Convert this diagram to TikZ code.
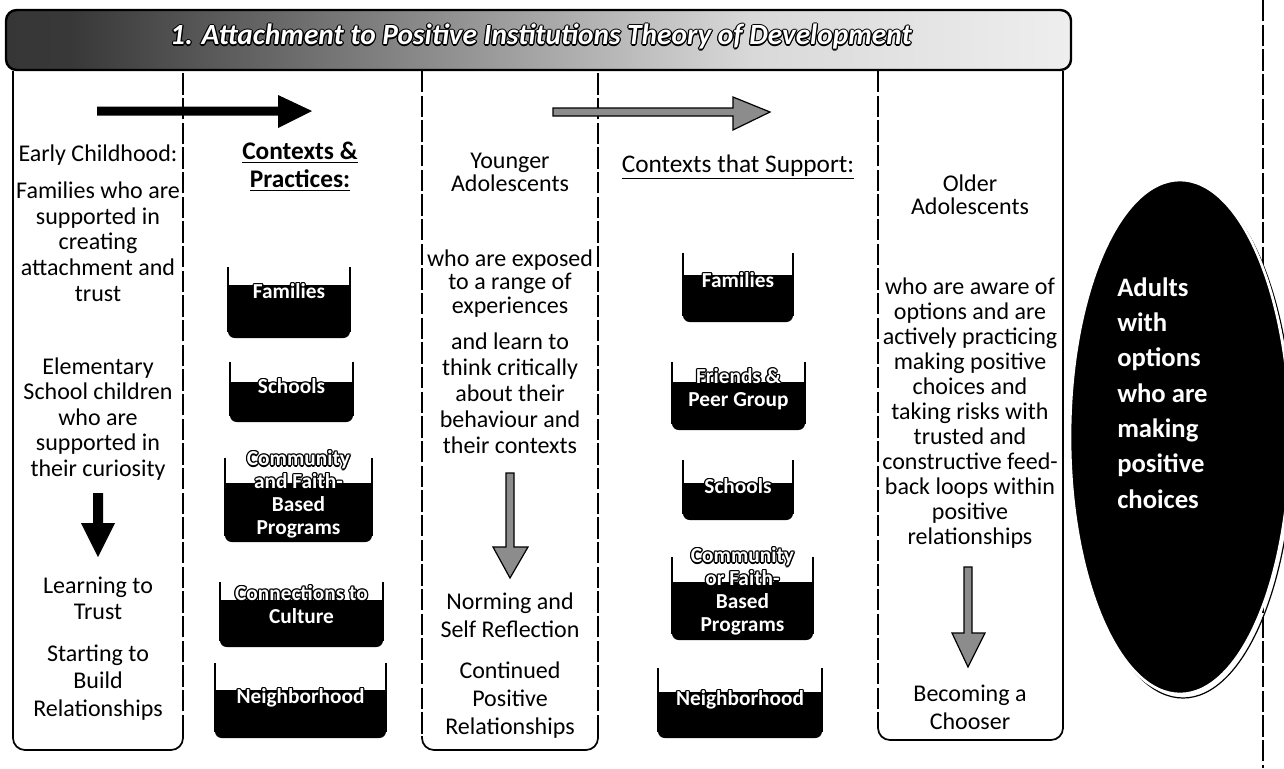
\documentclass[tikz,border=0pt]{standalone}
\usepackage{fontspec}
\setmainfont{Carlito}
\newcommand\bodyfont[1]{\fontsize{18pt}{#1}\selectfont\lineskiplimit=-20pt\relax}
\newcommand\lblfont{\fontsize{16pt}{17.25pt}\selectfont\bfseries\lineskiplimit=-20pt\relax}
\newcommand\hdrfont{\fontsize{19pt}{21pt}\selectfont\lineskiplimit=-20pt\relax}
\newcommand\ttlfont{\fontsize{22pt}{26pt}\selectfont\bfseries\itshape}
\newcommand\ellfont{\fontsize{20pt}{26.5pt}\selectfont\bfseries\lineskiplimit=-20pt\relax}
\pgfdeclarehorizontalshading{bannershade}{100bp}{color(0bp)=(black!85); color(28bp)=(black!78); color(45bp)=(black!45); color(60bp)=(black!15); color(78bp)=(black!5); color(100bp)=(white)}
% outlined text: #1 name, #2 x, #3 y, #4 style, #5 text
\newcommand\olabel[5]{%
  \foreach \dx/\dy [count=\k] in {1.3/0,-1.3/0,0/1.3,0/-1.3,0.9/0.9,-0.9/0.9,0.9/-0.9,-0.9/-0.9}{%
    \node[#4, text=black] (#1-\k) at ({#2+\dx},{#3+\dy}) {#5};
  }%
  \node[#4, text=white] (#1) at (#2,#3) {#5};
}
% beaker: x1, x2, top, water, bottom
\newcommand\beaker[5]{%
  \fill[rounded corners=5pt] (#1,#4) rectangle (#2,#5);
  \fill (#1,#4) rectangle (#2,{#4+10});
  \draw[beakerside] (#1,#3) -- (#1,{#5-6});
  \draw[beakerside] (#2,#3) -- (#2,{#5-6});
}
\begin{document}
\begin{tikzpicture}[x=0.75pt,y=-0.75pt,
  solidline/.style={line width=1.3pt},
  dashline/.style={line width=1.1pt, dash pattern=on 16pt off 2.5pt},
  beakerside/.style={line width=0.8pt},
  bodytext/.style={align=center, inner sep=0pt, anchor=north},
  lbltext/.style={align=center, inner sep=0pt, anchor=north, font=\lblfont},
  titletext/.style={inner sep=0pt, anchor=center, font=\ttlfont},
  hdrtext/.style={align=center, inner sep=0pt, anchor=north, font=\hdrfont},
  elltext/.style={align=left, inner sep=0pt, anchor=north west, font=\ellfont, text=white},
  grayarrow/.style={fill=black!45, draw=black, line width=0.9pt, line join=miter},
]
\useasboundingbox (0,0) rectangle (1284,768);
\fill[white] (0,0) rectangle (1284,768);
% right dashed line
\draw[dashline, line width=1pt] (1263,0) -- (1263,768);
% banner
\shade[shading=bannershade, rounded corners=8pt] (6,10) rectangle (1071,70);
\draw[line width=1.8pt, rounded corners=8pt] (6,10) rectangle (1071,70);
\olabel{title}{541}{37}{titletext}{1. Attachment to Positive Institutions Theory of Development}
% column boxes
\draw[solidline, rounded corners=9pt] (13,71) -- (13,750) -- (183,750) -- (183,736);
\draw[dashline] (183,736) -- (183,71);
\draw[dashline] (422,71) -- (422,736);
\draw[solidline, rounded corners=9pt] (422,736) -- (422,750) -- (598,750) -- (598,736);
\draw[dashline] (598,736) -- (598,71);
\draw[dashline] (878,71) -- (878,726);
\draw[solidline, rounded corners=9pt] (878,726) -- (878,740) -- (1063,740) -- (1063,71);
% horizontal arrows
\fill (97,106.5) -- (278,106.5) -- (278,95) -- (312,111) -- (278,128) -- (278,115.5) -- (97,115.5) -- cycle;
\filldraw[grayarrow] (553,108) -- (733,108) -- (733,97) -- (770,112) -- (733,130) -- (733,116) -- (553,116) -- cycle;
% vertical arrows
\fill (93,493) -- (103,493) -- (103,523) -- (115,523) -- (98,557) -- (81,523) -- (93,523) -- cycle;
\filldraw[grayarrow] (506,473) -- (514,473) -- (514,547) -- (528,547) -- (510,578) -- (493,547) -- (506,547) -- cycle;
\filldraw[grayarrow] (964,567) -- (972,567) -- (972,633) -- (985,633) -- (968,667) -- (952,633) -- (964,633) -- cycle;
% beakers column 2
\beaker{228}{350}{267}{285}{338}
\beaker{230}{353}{362}{382}{422}
\beaker{225}{372}{458}{483}{542}
\beaker{220}{383}{582}{600}{647}
\beaker{215}{386}{663}{690}{738}
% beakers column 4
\beaker{683}{793}{253}{275}{322}
\beaker{672}{805}{362}{382}{430}
\beaker{683}{793}{460}{483}{520}
\beaker{672}{813}{557}{582}{640}
\beaker{658}{822}{668}{692}{738}
% beaker labels
\olabel{lf1}{289}{282.4}{lbltext}{\strut Families}
\olabel{ls1}{291.5}{377.4}{lbltext}{\strut Schools}
\olabel{lc1}{298.5}{449.4}{lbltext}{\strut Community\\and Faith-\\Based\\Programs}
\olabel{lcc}{301.5}{584.4}{lbltext}{\strut Connections to\\Culture}
\olabel{ln1}{300.5}{687.4}{lbltext}{\strut Neighborhood}
\olabel{lf2}{738}{271.4}{lbltext}{\strut Families}
\olabel{lfr}{738.5}{367.4}{lbltext}{\strut Friends \&\\Peer Group}
\olabel{ls2}{738}{477.4}{lbltext}{\strut Schools}
\olabel{lc2}{742.5}{546.4}{lbltext}{\strut Community\\or Faith-\\Based\\Programs}
\olabel{ln2}{740}{689.4}{lbltext}{\strut Neighborhood}
% headers
\node[hdrtext] (cp) at (300,139.9) {\strut\textbf{\underline{Contexts \&}}\\\textbf{\underline{Practices:}}};
\node[hdrtext] (cs) at (738,152.9) {\strut\underline{Contexts that Support:}};
% column 1 text
\node[bodytext, font={\bodyfont{18.75pt}}] (ec) at (98,143.5) {\strut Early Childhood:};
\node[bodytext, font={\bodyfont{19.3pt}}] (fam) at (98,180) {\strut Families who are\\supported in\\creating\\attachment and\\trust};
\node[bodytext, font={\bodyfont{19.1pt}}] (elem) at (98,356.2) {\strut Elementary\\School children\\who are\\supported in\\their curiosity};
\node[bodytext, font={\bodyfont{19.5pt}}] (ltt) at (98,574.8) {\strut Learning to\\Trust};
\node[bodytext, font={\bodyfont{20.6pt}}] (sbr) at (98,641.75) {\strut Starting to\\Build\\Relationships};
% column 3 text
\node[bodytext, font={\bodyfont{16.9pt}}] (ya) at (510,152.6) {\strut Younger\\Adolescents};
\node[bodytext, font={\bodyfont{17.6pt}}] (exp) at (510,249.5) {\strut who are exposed\\to a range of\\experiences};
\node[bodytext, font={\bodyfont{19.5pt}}] (crit) at (510,330.8) {\strut and learn to\\think critically\\about their\\behaviour and\\their contexts};
\node[bodytext, font={\bodyfont{21pt}}] (nsr) at (510,589.4) {\strut Norming and\\Self Reflection};
\node[bodytext, font={\bodyfont{21pt}}] (cpr) at (510,658.4) {\strut Continued\\Positive\\Relationships};
% column 5 text
\node[bodytext, font={\bodyfont{17.25pt}}] (oa) at (970,175) {\strut Older\\Adolescents};
\node[bodytext, font={\bodyfont{18.75pt}}] (aware) at (970,276.5) {\strut who are aware of\\options and are\\actively practicing\\making positive\\choices and\\taking risks with\\trusted and\\constructive feed-\\back loops within\\positive\\relationships};
\node[bodytext, font={\bodyfont{21pt}}] (bc) at (970,681.4) {\strut Becoming a\\Chooser};
% ellipse
\draw[line width=0.9pt] (1183,441) ellipse [x radius=110, y radius=257];
\filldraw[fill=black, draw=white, line width=2pt] (1180,437) ellipse [x radius=110, y radius=257];
\node[elltext] (adults) at (1117,271) {\strut Adults\\with\\options\\who are\\making\\positive\\choices};
\end{tikzpicture}
\end{document}
